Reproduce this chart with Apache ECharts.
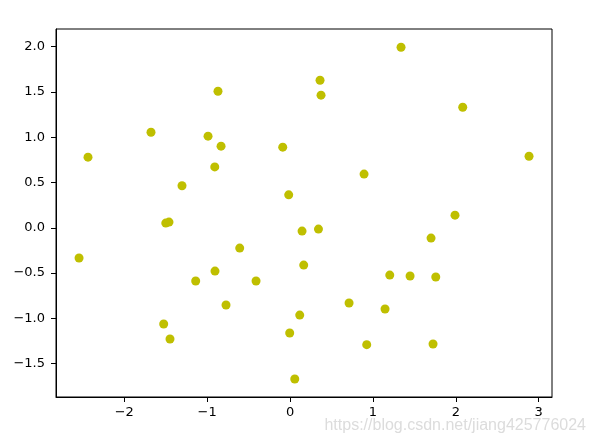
<!DOCTYPE html>
<html>
<head>
<meta charset="utf-8">
<script src="https://cdn.jsdelivr.net/npm/echarts@6/dist/echarts.min.js"></script>
<style>html,body{margin:0;padding:0;background:#fff}#c{width:590px;height:443px}</style>
</head>
<body>
<div id="c"></div>
<script>
const xValues = [1.339,0.362,0.374,-0.869,2.083,-1.677,-0.989,-0.832,-0.088,-2.437,
  2.883,-0.908,0.893,-1.303,-0.016,1.990,-1.499,-1.460,0.145,0.343,
  1.701,-2.545,-0.607,0.165,-0.905,1.203,1.448,1.758,-1.138,-0.410,
  0.712,-0.772,1.146,0.117,-1.524,-0.004,-1.448,0.925,1.725,0.057];
const yValues = [1.995,1.630,1.465,1.509,1.332,1.056,1.012,0.902,0.891,0.780,
  0.791,0.673,0.593,0.464,0.364,0.140,0.052,0.063,-0.036,-0.014,
  -0.114,-0.334,-0.224,-0.412,-0.478,-0.522,-0.533,-0.544,-0.588,-0.588,
  -0.831,-0.853,-0.897,-0.964,-1.063,-1.162,-1.228,-1.291,-1.284,-1.670];
const xTicks = [-2,-1,0,1,2,3];
const yTicks = [-1.5,-1.0,-0.5,0.0,0.5,1.0,1.5,2.0];

const points = xValues.map((x,i)=>[x,yValues[i]]);
const minus = s => String(s).replace('-', '\u2212');
const font = 'DejaVu Sans';

const chart = echarts.init(document.getElementById('c'), null, {renderer:'canvas'});
chart.setOption({
  animation:false,
  backgroundColor:'#fff',
  grid:{left:56, right:38, top:29, bottom:46, show:true, borderColor:'#000', borderWidth:1, backgroundColor:'transparent'},
  xAxis:{
    type:'value', min:-2.823, max:3.160,
    axisLine:{show:true, onZero:false, lineStyle:{color:'#000', width:1}},
    axisTick:{show:true, length:5, lineStyle:{color:'#000'}, customValues:xTicks},
    axisLabel:{show:true, margin:9, color:'#000', fontFamily:font, fontSize:13, customValues:xTicks,
      formatter:v=>minus(Math.round(v))},
    splitLine:{show:false}
  },
  yAxis:{
    type:'value', min:-1.869, max:2.196,
    axisLine:{show:true, onZero:false, lineStyle:{color:'#000', width:1}},
    axisTick:{show:true, length:5, lineStyle:{color:'#000'}, customValues:yTicks},
    axisLabel:{show:true, margin:11, color:'#000', fontFamily:font, fontSize:13, customValues:yTicks,
      formatter:v=>minus(v.toFixed(1))},
    splitLine:{show:false}
  },
  graphic:[{
    type:'text', right:4, bottom:9,
    style:{text:'https://blog.csdn.net/jiang425776024', fill:'#dcdcdc', font:'16px "Liberation Sans"'}
  }],
  series:[{
    type:'scatter', data:points, symbol:'circle', symbolSize:9,
    itemStyle:{color:'#bfbf00', opacity:1}
  }]
});
</script>
</body>
</html>
